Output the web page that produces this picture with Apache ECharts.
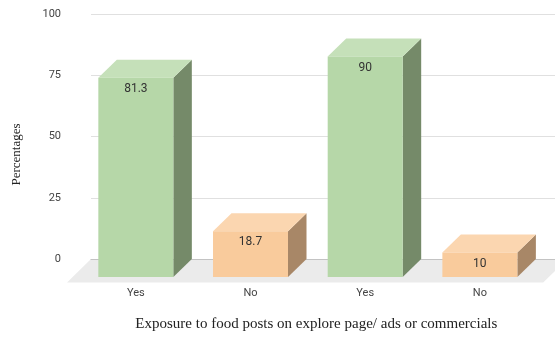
<!DOCTYPE html>
<html>
<head>
<meta charset="utf-8">
<script src="https://cdn.jsdelivr.net/npm/echarts@6/dist/echarts.min.js"></script>
<style>
html, body { margin: 0; padding: 0; background: #fff; }
#chart { width: 555px; height: 338px; }
</style>
</head>
<body>
<div id="chart"></div>
<script>
var categories = ['Yes', 'No', 'Yes', 'No'];
var values = [81.3, 18.7, 90, 10];
var yTicks = [0, 25, 50, 75, 100];

// face colours per answer: front, top, side
var faces = {
	'Yes': ['#b6d7a8', '#c5e0b9', '#758a69'],
	'No': ['#f9cb9c', '#fbd6b0', '#a88767']
};

var chart = echarts.init(document.getElementById('chart'));

var DX = 18.5, DY = 18;

function renderBox(params, api) {
	var i = api.value(0);
	var v = api.value(1);
	var base = api.coord([i, 0]);
	var top = api.coord([i, v]);
	var w = api.size([1, 0])[0] * 0.654;
	var x0 = base[0] - w / 2, x1 = base[0] + w / 2;
	var yb = base[1], yt = top[1];
	var c = faces[categories[i]];
	return {
		type: 'group',
		children: [{
			type: 'polygon',
			shape: { points: [[x1, yt], [x1 + DX, yt - DY], [x1 + DX, yb - DY], [x1, yb]] },
			style: { fill: c[2] }
		}, {
			type: 'polygon',
			shape: { points: [[x0, yt], [x0 + DX, yt - DY], [x1 + DX, yt - DY], [x1, yt]] },
			style: { fill: c[1] }
		}, {
			type: 'rect',
			shape: { x: x0, y: yt, width: w, height: yb - yt },
			style: { fill: c[0] }
		}, {
			type: 'text',
			style: {
				text: String(v),
				x: base[0], y: yt + 11,
				align: 'center', verticalAlign: 'middle',
				fill: '#333', font: '12px Roboto, Arial, sans-serif'
			}
		}]
	};
}

function renderFloor(params, api) {
	var cs = params.coordSys;
	var yf = cs.y + cs.height + 5.5;
	var yBack = yf - 23;
	var xl = cs.x - 11.5, xr = cs.x + cs.width + 6;
	return {
		type: 'polygon',
		shape: { points: [[xl, yf], [xl + 23.5, yBack], [xr + 23.5, yBack], [xr, yf]] },
		style: { fill: '#ebebeb' }
	};
}

var option = {
	animation: false,
	grid: [
		{ left: 91, right: 0, top: 14, bottom: 79 },
		{ left: 78.5, right: 17.8, top: 32, bottom: 61 }
	],
	xAxis: [{
		gridIndex: 0,
		type: 'category',
		data: categories,
		axisLine: { lineStyle: { color: '#9a9a9a' } },
		axisTick: { show: false },
		axisLabel: { show: false }
	}, {
		gridIndex: 1,
		type: 'category',
		data: categories,
		axisLine: { show: false },
		axisTick: { show: false },
		axisLabel: { color: '#444', fontSize: 11, fontFamily: 'Roboto, Arial, sans-serif', margin: 11 },
		name: 'Exposure to food posts on explore page/ ads or commercials',
		nameLocation: 'middle',
		nameGap: 40,
		nameTextStyle: { color: '#222', fontSize: 15, fontFamily: '"Liberation Serif", serif', padding: [0, 0, 0, 17] }
	}],
	yAxis: [{
		gridIndex: 0,
		type: 'value',
		min: yTicks[0],
		max: yTicks[yTicks.length - 1],
		interval: yTicks[1] - yTicks[0],
		axisLine: { show: false },
		axisTick: { show: false },
		axisLabel: { color: '#444', fontSize: 11, fontFamily: 'Roboto, Arial, sans-serif', margin: 30 },
		splitLine: { lineStyle: { color: '#e0e0e0' } }
	}, {
		gridIndex: 1,
		type: 'value',
		min: yTicks[0],
		max: yTicks[yTicks.length - 1],
		axisLine: { show: false },
		axisTick: { show: false },
		axisLabel: { show: false },
		splitLine: { show: false },
		name: 'Percentages',
		nameLocation: 'middle',
		nameGap: 55,
		nameTextStyle: { color: '#222', fontSize: 13, fontFamily: '"Liberation Serif", serif' }
	}],
	series: [{
		type: 'custom',
		xAxisIndex: 1,
		yAxisIndex: 1,
		z: 1,
		data: [[0, 0]],
		renderItem: renderFloor,
		silent: true
	}, {
		type: 'custom',
		xAxisIndex: 1,
		yAxisIndex: 1,
		z: 3,
		data: values.map(function(v, i) { return [i, v]; }),
		renderItem: renderBox
	}]
};

chart.setOption(option);
</script>
</body>
</html>
